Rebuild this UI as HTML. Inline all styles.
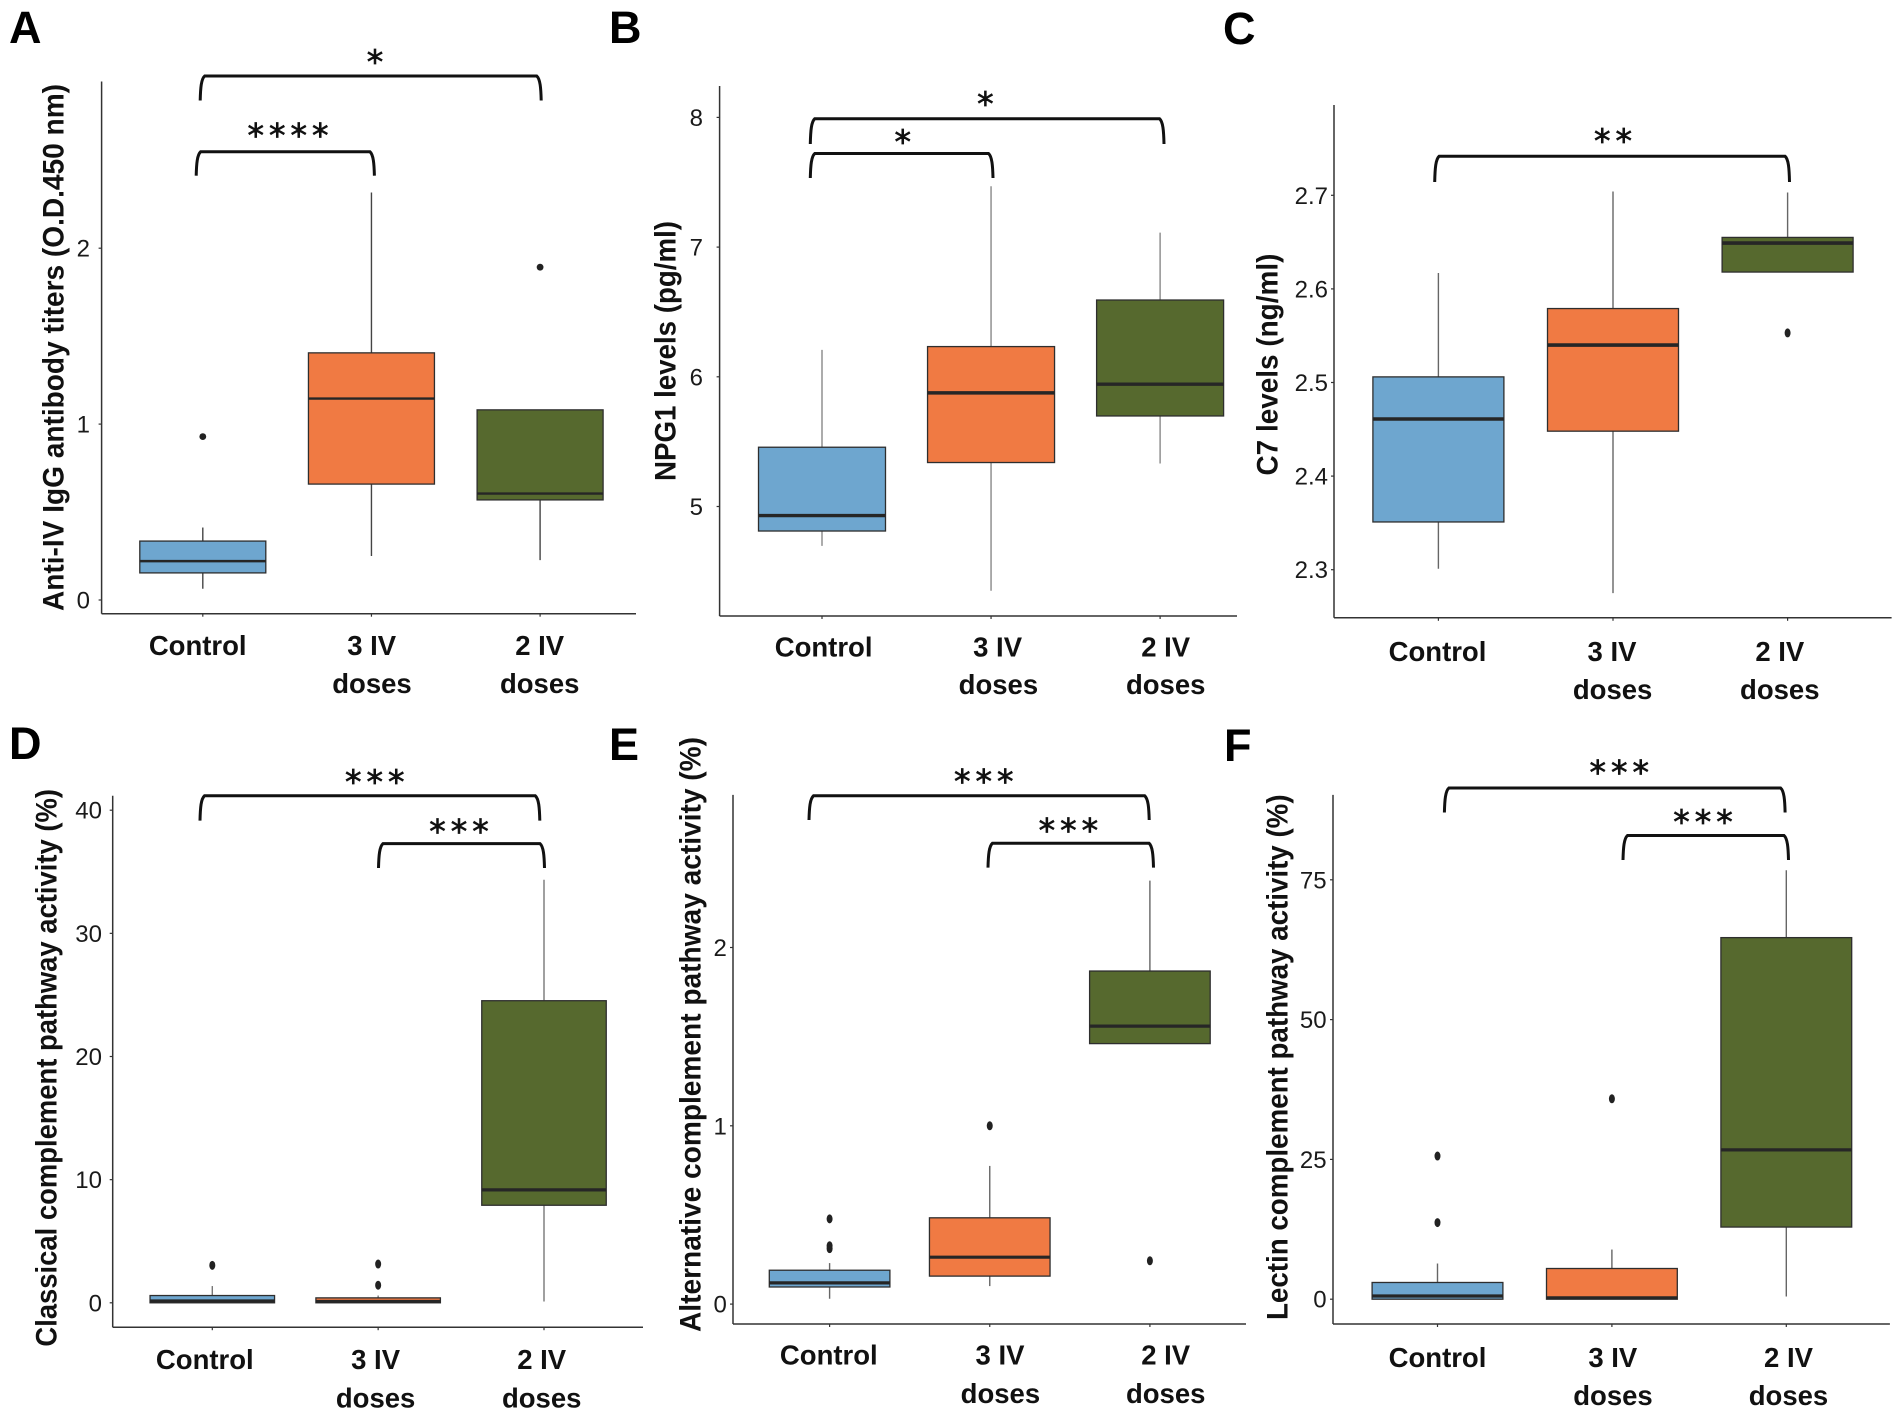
<!DOCTYPE html>
<html lang="en">
<head>
<meta charset="utf-8">
<title>Complement and antibody box plots</title>
<style>
  html, body { margin: 0; padding: 0; background: #fff; }
  svg { display: block; font-family: "Liberation Sans", sans-serif; }
</style>
</head>
<body>
<svg id="figure" width="1902" height="1418" viewBox="0 0 1902 1418" xmlns="http://www.w3.org/2000/svg">
  <rect width="1902" height="1418" fill="#ffffff"/>
</svg>
<script>
// Shared categories
const categoryLine1 = ['Control', '3 IV', '2 IV'];
const categoryLine2 = ['', 'doses', 'doses'];
const boxColors = ['#6EA6CF', '#F07A43', '#56692E'];

// Panel A values
const aTicks = [0, 1, 2];
const aTickLabels = ['0', '1', '2'];
const aLow = [0.064, 0.25, 0.227];
const aQ1 = [0.154, 0.659, 0.569];
const aMedian = [0.221, 1.145, 0.605];
const aQ3 = [0.335, 1.405, 1.081];
const aHigh = [0.412, 2.317, 1.081];
const aOutliers = [[0.929], [], [1.892]];

// Panel B values
const bTicks = [5, 6, 7, 8];
const bTickLabels = ['5', '6', '7', '8'];
const bLow = [4.696, 4.35, 5.332];
const bQ1 = [4.811, 5.339, 5.698];
const bMedian = [4.93, 5.876, 5.943];
const bQ3 = [5.457, 6.233, 6.592];
const bHigh = [6.208, 7.469, 7.112];
const bOutliers = [[], [], []];

// Panel C values
const cTicks = [2.3, 2.4, 2.5, 2.6, 2.7];
const cTickLabels = ['2.3', '2.4', '2.5', '2.6', '2.7'];
const cLow = [2.301, 2.275, 2.618];
const cQ1 = [2.351, 2.448, 2.618];
const cMedian = [2.461, 2.54, 2.649];
const cQ3 = [2.506, 2.579, 2.655];
const cHigh = [2.617, 2.704, 2.703];
const cOutliers = [[], [], [2.553]];

// Panel D values
const dTicks = [0, 10, 20, 30, 40];
const dTickLabels = ['0', '10', '20', '30', '40'];
const dLow = [0, 0, 0.11];
const dQ1 = [0, 0, 7.92];
const dMedian = [0.15, 0.11, 9.17];
const dQ3 = [0.59, 0.4, 24.53];
const dHigh = [1.36, 0.59, 34.35];
const dOutliers = [[3.04], [3.15, 1.43], []];

// Panel E values
const eTicks = [0, 1, 2];
const eTickLabels = ['0', '1', '2'];
const eLow = [0.03, 0.101, 1.461];
const eQ1 = [0.096, 0.157, 1.461];
const eMedian = [0.119, 0.263, 1.559];
const eQ3 = [0.19, 0.484, 1.868];
const eHigh = [0.23, 0.775, 2.375];
const eOutliers = [[0.478, 0.327, 0.311], [1.0], [0.243]];

// Panel F values
const fTicks = [0, 25, 50, 75];
const fTickLabels = ['0', '25', '50', '75'];
const fLow = [0, 0, 0.48];
const fQ1 = [0, 0, 12.9];
const fMedian = [0.57, 0.24, 26.7];
const fQ3 = [2.99, 5.49, 64.66];
const fHigh = [6.38, 8.88, 76.7];
const fOutliers = [[25.6, 13.7], [35.84], []];

// Panel geometry and annotation layout
const panels = [
  { id: 'a', letter: 'A', letterX: 9, letterY: 43,
    title: 'Anti-IV IgG antibody titers (O.D.450 nm)', titleX: 63.3, titleBottom: 611, titleTop: 84,
    axisX: 101.6, axisTop: 81.5, axisBottom: 613.7, axisRight: 636, tickLabelX: 90,
    refValue: 0, refY: 600, pxPerUnit: 175.9, firstX: 202.8, stepX: 168.65, boxWidth: 126,
    medianWidth: 2.4, whiskerColor: '#444444', outRx: 3.4, outRy: 3.4,
    label1X: [197.7, 371.7, 539.7], label2X: [0, 372, 539.7], label1Y: 655, label2Y: 693,
    brackets: [
      { x0: 201.7, x1: 539.7, top: 76, bottom: 100.5, starX: 375, starY: 56.6, stars: '*' },
      { x0: 197.7, x1: 372.9, top: 151.7, bottom: 175.7, starX: 288, starY: 130.4, stars: '****' }
    ],
    ticks: aTicks, tickLabels: aTickLabels, low: aLow, q1: aQ1, median: aMedian, q3: aQ3, high: aHigh, outliers: aOutliers },
  { id: 'b', letter: 'B', letterX: 609, letterY: 43,
    title: 'NPG1 levels (pg/ml)', titleX: 675.4, titleBottom: 481, titleTop: 221,
    axisX: 719.6, axisTop: 86, axisBottom: 616, axisRight: 1237, tickLabelX: 703,
    refValue: 5, refY: 506.5, pxPerUnit: 129.7, firstX: 822, stepX: 169.05, boxWidth: 127,
    medianWidth: 3.4, whiskerColor: '#888888', outRx: 3, outRy: 4.5,
    label1X: [823.6, 997.6, 1165.7], label2X: [0, 998.4, 1165.7], label1Y: 656.7, label2Y: 694,
    brackets: [
      { x0: 811.8, x1: 1162.5, top: 118.7, bottom: 144, starX: 985.4, starY: 98.7, stars: '*' },
      { x0: 811.8, x1: 991.5, top: 153.5, bottom: 178, starX: 902.7, starY: 136.5, stars: '*' }
    ],
    ticks: bTicks, tickLabels: bTickLabels, low: bLow, q1: bQ1, median: bMedian, q3: bQ3, high: bHigh, outliers: bOutliers },
  { id: 'c', letter: 'C', letterX: 1223, letterY: 44,
    title: 'C7 levels (ng/ml)', titleX: 1277.4, titleBottom: 475.5, titleTop: 253.6,
    axisX: 1334, axisTop: 105, axisBottom: 617.8, axisRight: 1891.6, tickLabelX: 1328,
    refValue: 2.3, refY: 569.7, pxPerUnit: 936, firstX: 1438.4, stepX: 174.6, boxWidth: 131,
    medianWidth: 3.6, whiskerColor: '#666666', outRx: 3, outRy: 4.5,
    label1X: [1437.5, 1612, 1779.8], label2X: [0, 1612.6, 1779.8], label1Y: 661, label2Y: 699,
    brackets: [
      { x0: 1436.2, x1: 1788, top: 156.2, bottom: 182, starX: 1613, starY: 135.9, stars: '**' }
    ],
    ticks: cTicks, tickLabels: cTickLabels, low: cLow, q1: cQ1, median: cMedian, q3: cQ3, high: cHigh, outliers: cOutliers },
  { id: 'd', letter: 'D', letterX: 9, letterY: 759,
    title: 'Classical complement pathway activity (%)', titleX: 56.5, titleBottom: 1346.6, titleTop: 789,
    axisX: 112.7, axisTop: 795.8, axisBottom: 1327.2, axisRight: 643, tickLabelX: 102,
    refValue: 0, refY: 1302.8, pxPerUnit: 12.315, firstX: 212.3, stepX: 165.85, boxWidth: 124.5,
    medianWidth: 3.2, whiskerColor: '#777777', outRx: 3, outRy: 4.5,
    label1X: [204.8, 375.6, 541.7], label2X: [0, 375.6, 541.7], label1Y: 1369, label2Y: 1407.5,
    brackets: [
      { x0: 201.5, x1: 538.3, top: 795.8, bottom: 820.6, starX: 374.8, starY: 776.8, stars: '***' },
      { x0: 380, x1: 543, top: 843.6, bottom: 868, starX: 459, starY: 826, stars: '***' }
    ],
    ticks: dTicks, tickLabels: dTickLabels, low: dLow, q1: dQ1, median: dMedian, q3: dQ3, high: dHigh, outliers: dOutliers },
  { id: 'e', letter: 'E', letterX: 609, letterY: 760,
    title: 'Alternative complement pathway activity (%)', titleX: 700.3, titleBottom: 1332, titleTop: 737,
    axisX: 733, axisTop: 794.9, axisBottom: 1324, axisRight: 1246, tickLabelX: 726.8,
    refValue: 0, refY: 1304.1, pxPerUnit: 178.3, firstX: 829.6, stepX: 160.15, boxWidth: 120.6,
    medianWidth: 3.2, whiskerColor: '#666666', outRx: 3, outRy: 4.5,
    label1X: [828.8, 1000, 1165.7], label2X: [0, 1000.4, 1165.7], label1Y: 1364.6, label2Y: 1403,
    brackets: [
      { x0: 810.5, x1: 1147.7, top: 795.8, bottom: 820, starX: 983.8, starY: 776, stars: '***' },
      { x0: 989.5, x1: 1152, top: 843.2, bottom: 867.6, starX: 1068.4, starY: 825, stars: '***' }
    ],
    ticks: eTicks, tickLabels: eTickLabels, low: eLow, q1: eQ1, median: eMedian, q3: eQ3, high: eHigh, outliers: eOutliers },
  { id: 'f', letter: 'F', letterX: 1224, letterY: 761,
    title: 'Lectin complement pathway activity (%)', titleX: 1287.4, titleBottom: 1320, titleTop: 794.4,
    axisX: 1333, axisTop: 794.9, axisBottom: 1324, axisRight: 1889.9, tickLabelX: 1326.6,
    refValue: 0, refY: 1299.2, pxPerUnit: 5.592, firstX: 1437.5, stepX: 174.4, boxWidth: 130.8,
    medianWidth: 3.2, whiskerColor: '#666666', outRx: 3, outRy: 4.5,
    label1X: [1437.5, 1612.8, 1788.5], label2X: [0, 1613, 1788.5], label1Y: 1367, label2Y: 1405,
    brackets: [
      { x0: 1445.9, x1: 1783.6, top: 788, bottom: 812.5, starX: 1619.3, starY: 767, stars: '***' },
      { x0: 1624.5, x1: 1787, top: 835.5, bottom: 860, starX: 1703, starY: 816.5, stars: '***' }
    ],
    ticks: fTicks, tickLabels: fTickLabels, low: fLow, q1: fQ1, median: fMedian, q3: fQ3, high: fHigh, outliers: fOutliers }
];

const SVG_NS = 'http://www.w3.org/2000/svg';
const root = document.getElementById('figure');

function shape(tag, attrs, parent, text) {
  const el = document.createElementNS(SVG_NS, tag);
  for (const key in attrs) el.setAttribute(key, attrs[key]);
  if (text !== undefined) el.textContent = text;
  parent.appendChild(el);
  return el;
}

function drawBracket(b, index, g) {
  const d = 'M' + (b.x0 - 1.5) + ' ' + b.bottom +
    ' C' + (b.x0 - 1.2) + ' ' + (b.top + 12) + ' ' + (b.x0 - 0.5) + ' ' + (b.top + 3) + ' ' + (b.x0 + 3) + ' ' + b.top +
    ' L' + (b.x1 - 3) + ' ' + b.top +
    ' C' + (b.x1 + 0.5) + ' ' + (b.top + 3) + ' ' + (b.x1 + 1.2) + ' ' + (b.top + 12) + ' ' + (b.x1 + 1.5) + ' ' + b.bottom;
  const path = shape('path', { d: d, fill: 'none', stroke: '#111111', 'stroke-width': 3 }, g);
  
  
  const size = 33;
  const spacing = 5;
  const star = shape('text', {
    x: b.starX + spacing / 2, y: b.starY + size * 0.51, 'text-anchor': 'middle',
    'font-family': '"DejaVu Sans", sans-serif', 'font-size': size, 'letter-spacing': spacing,
    fill: '#111111', stroke: '#111111', 'stroke-width': 0.7
  }, g, b.stars);
  
  
}

function drawPanel(p) {
  const g = shape('g', {}, root);
  
  

  const yScale = function (v) { return p.refY - (v - p.refValue) * p.pxPerUnit; };
  const xScale = function (i) { return p.firstX + i * p.stepX; };

  const letter = shape('text', { x: p.letterX, y: p.letterY, 'font-size': 45, 'font-weight': 700, fill: '#000' }, g, p.letter);
  
  

  const title = shape('text', {
    x: p.titleX, y: p.titleBottom, transform: 'rotate(-90 ' + p.titleX + ' ' + p.titleBottom + ')',
    'font-size': 29.5, 'font-weight': 700, fill: '#111',
    textLength: p.titleBottom - p.titleTop, lengthAdjust: 'spacingAndGlyphs'
  }, g, p.title);
  
  

  const yAxis = shape('line', { x1: p.axisX, x2: p.axisX, y1: p.axisTop, y2: p.axisBottom, stroke: '#333', 'stroke-width': 1.5 }, g);
  
  

  const xAxis = shape('line', { x1: p.axisX, x2: p.axisRight, y1: p.axisBottom, y2: p.axisBottom, stroke: '#333', 'stroke-width': 1.5 }, g);
  
  

  p.ticks.forEach(function (t, i) {
    const y = yScale(t);
    const tick = shape('line', { x1: p.axisX - 3, x2: p.axisX, y1: y, y2: y, stroke: '#333', 'stroke-width': 1.2 }, g);
    
    
    const label = shape('text', { x: p.tickLabelX, y: y + 8.5, 'text-anchor': 'end', 'font-size': 24, fill: '#1a1a1a' }, g, p.tickLabels[i]);
    
    
  });

  categoryLine1.forEach(function (cat, i) {
    const cx = xScale(i);
    const half = p.boxWidth / 2;

    const xTick = shape('line', { x1: cx, x2: cx, y1: p.axisBottom, y2: p.axisBottom + 3, stroke: '#333', 'stroke-width': 1.2 }, g);
    
    

    const line1 = shape('text', { x: p.label1X[i], y: p.label1Y, 'text-anchor': 'middle', 'font-size': 27.5, 'font-weight': 700, fill: '#111' }, g, cat);
    
    
    if (categoryLine2[i]) {
      const line2 = shape('text', { x: p.label2X[i], y: p.label2Y, 'text-anchor': 'middle', 'font-size': 27.5, 'font-weight': 700, fill: '#111' }, g, categoryLine2[i]);
      
      
    }

    const whisker = shape('line', { x1: cx, x2: cx, y1: yScale(p.low[i]), y2: yScale(p.high[i]), stroke: p.whiskerColor, 'stroke-width': 1.4 }, g);
    
    

    const top = yScale(p.q3[i]);
    const bottom = yScale(p.q1[i]);
    const box = shape('rect', { x: cx - half, y: top, width: p.boxWidth, height: bottom - top, fill: boxColors[i], stroke: '#2e2e2e', 'stroke-width': 1.3 }, g);
    
    

    const med = yScale(p.median[i]);
    const median = shape('line', { x1: cx - half, x2: cx + half, y1: med, y2: med, stroke: '#262626', 'stroke-width': p.medianWidth }, g);
    
    

    p.outliers[i].forEach(function (v) {
      const dot = shape('ellipse', { cx: cx, cy: yScale(v), rx: p.outRx, ry: p.outRy, fill: '#222' }, g);
      
      
    });
  });

  p.brackets.forEach(function (b, i) { drawBracket(b, i, g); });
}

panels.forEach(drawPanel);
</script>
</body>
</html>
